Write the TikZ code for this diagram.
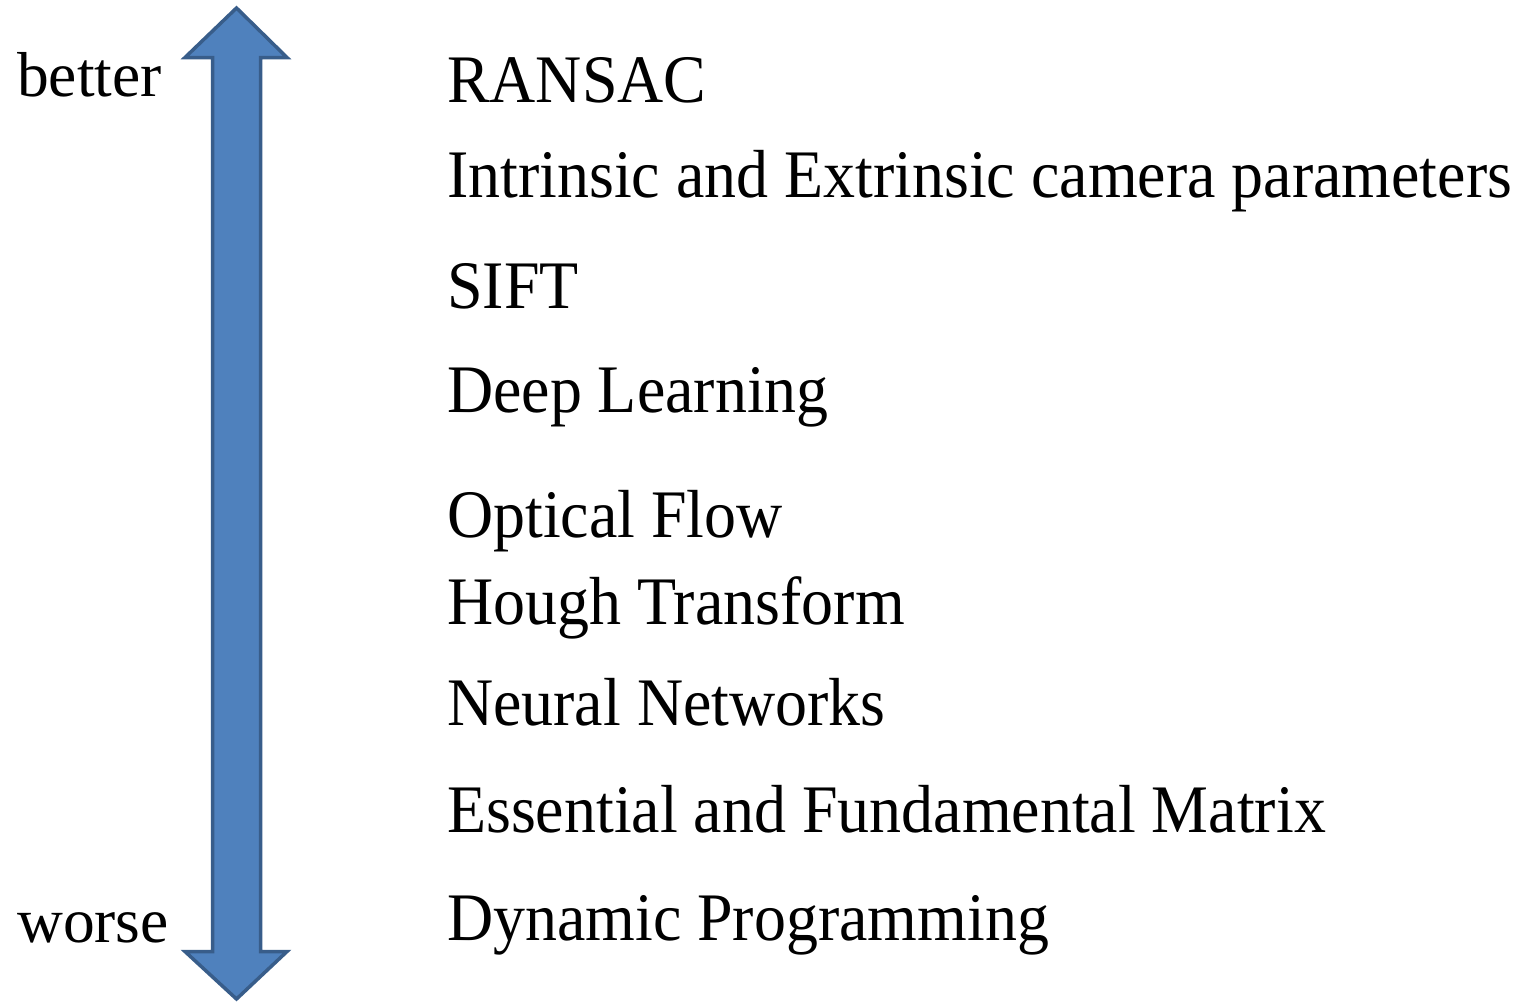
\documentclass[tikz,border=0pt]{standalone}
\usepackage{fontspec}
\setmainfont{Liberation Serif}
\newfontfamily\narrowserif[FakeStretch=0.94]{Liberation Serif}
\definecolor{arrfill}{HTML}{4F81BD}
\definecolor{arrline}{HTML}{385D8A}
\begin{document}
\begin{tikzpicture}[x=1pt,y=-1pt,
  item/.style={anchor=base west,inner sep=0pt,font=\narrowserif\fontsize{68}{80}\selectfont},
  side/.style={anchor=base west,inner sep=0pt,font=\fontsize{63.5}{74}\selectfont},
  bigarrow/.style={fill=arrfill,draw=arrline,line width=3.5pt,line join=miter}]
\useasboundingbox (0,0) rectangle (1517,1002);
\draw[bigarrow] (236.5,8) -- (287,57.5) -- (260.5,57.5) -- (260.5,951.5) -- (287,951.5)
  -- (236.5,999) -- (185,951.5) -- (212.5,951.5) -- (212.5,57.5) -- (185,57.5) -- cycle;
\node[side] (better) at (17,96) {better};
\node[side] (worse) at (17,942) {worse};
\node[item] (t1) at (447,102) {RANSAC};
\node[item] (t2) at (447,197) {Intrinsic and Extrinsic camera parameters};
\node[item] (t3) at (447,308) {SIFT};
\node[item] (t4) at (447,412) {Deep Learning};
\node[item] (t5) at (447,537) {Optical Flow};
\node[item] (t6) at (447,624) {Hough Transform};
\node[item] (t7) at (447,725) {Neural Networks};
\node[item] (t8) at (447,832) {Essential and Fundamental Matrix};
\node[item] (t9) at (447,940) {Dynamic Programming};
\end{tikzpicture}
\end{document}
